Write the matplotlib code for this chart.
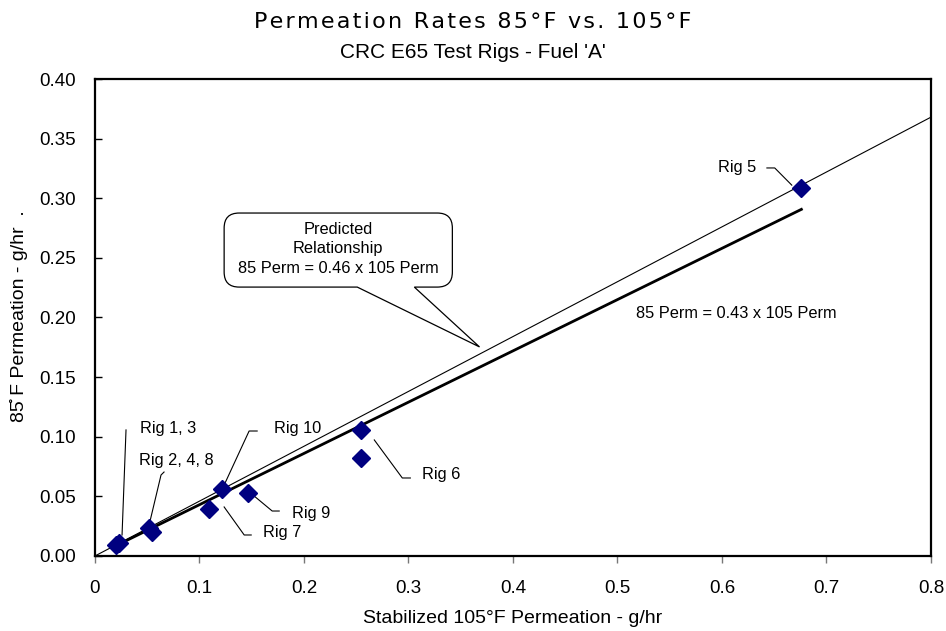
import matplotlib
matplotlib.use("Agg")
import matplotlib.pyplot as plt
from matplotlib.path import Path
from matplotlib.patches import PathPatch
from matplotlib.transforms import IdentityTransform

plt.rcParams['font.family'] = ['Liberation Sans', 'DejaVu Sans']

# ---- data ----
x105 = [0.020, 0.023, 0.0517, 0.0546, 0.1092, 0.1217, 0.1466, 0.255, 0.255, 0.676]
y85 = [0.009, 0.011, 0.0235, 0.0201, 0.0394, 0.0562, 0.0528, 0.1057, 0.082, 0.309]

pred_slope = 0.46
pred_x = [0.0, 0.8]
fit_slope = 0.43
fit_x = [0.021, 0.676]

xticks = [0, 0.1, 0.2, 0.3, 0.4, 0.5, 0.6, 0.7, 0.8]
xtick_labels = ['0', '0.1', '0.2', '0.3', '0.4', '0.5', '0.6', '0.7', '0.8']
yticks = [0.00, 0.05, 0.10, 0.15, 0.20, 0.25, 0.30, 0.35, 0.40]

# rig labels: text, text anchor (x, y), leader path
rig_labels = [
    ("Rig 5", (0.596, 0.326), [(0.643, 0.3254), (0.6505, 0.3254), (0.6668, 0.311)]),
    ("Rig 6", (0.313, 0.068), [(0.2673, 0.0973), (0.2941, 0.0654), (0.3018, 0.0654)]),
    ("Rig 9", (0.189, 0.036), [(0.1523, 0.0503), (0.1696, 0.0377), (0.1763, 0.0377)]),
    ("Rig 7", (0.161, 0.0193), [(0.1236, 0.0411), (0.1428, 0.0176), (0.1495, 0.0176)]),
    ("Rig 10", (0.1715, 0.1065), [(0.1552, 0.1048), (0.1475, 0.1048), (0.1236, 0.0595)]),
    ("Rig 1, 3", (0.043, 0.107), [(0.0297, 0.1057), (0.0259, 0.0176)]),
    ("Rig 2, 4, 8", (0.042, 0.0797), [(0.0661, 0.0704), (0.0632, 0.0679), (0.0527, 0.0293)]),
]

title = "Permeation Rates 85\u00b0F vs. 105\u00b0F"
subtitle = "CRC E65 Test Rigs - Fuel 'A'"

fig = plt.figure(figsize=(9.46, 6.31), dpi=100)
ax = fig.add_axes([0.1004, 0.1189, 0.8837, 0.7559])
ax.set_xlim(0, 0.8)
ax.set_ylim(0, 0.40)

# lines
ax.plot(pred_x, [pred_slope * v for v in pred_x], color='black', lw=0.8, zorder=2)
ax.plot(fit_x, [fit_slope * v for v in fit_x], color='black', lw=2.0, zorder=2)

# points
ax.plot(x105, y85, linestyle='none', marker='D', ms=9.5, color='#000080',
        markeredgecolor='#000080', zorder=3)

# labels and leaders
for txt, (tx, ty), leader in rig_labels:
    ax.text(tx, ty, txt, fontsize=11.8, ha='left', va='center', zorder=4)
    ax.plot([p[0] for p in leader], [p[1] for p in leader], color='black', lw=0.8, zorder=2)

ax.text(0.614, 0.203, "85 Perm = 0.43 x 105 Perm", fontsize=11.8, ha='center', va='center')

# callout (rounded rectangular callout)
box = (0.1236, 0.2255, 0.342, 0.2876)   # x0, y0, x1, y1 in data
tail_base = (0.251, 0.3056)
tail_tip = (0.368, 0.1753)
T = ax.transData
(X0, Y0) = T.transform((box[0], box[1]))
(X1, Y1) = T.transform((box[2], box[3]))
BX0 = T.transform((tail_base[0], box[1]))[0]
BX1 = T.transform((tail_base[1], box[1]))[0]
TX, TY = T.transform(tail_tip)
r = 15
verts = [(BX0, Y0), (TX, TY), (BX1, Y0), (X1 - r, Y0), (X1, Y0), (X1, Y0 + r),
         (X1, Y1 - r), (X1, Y1), (X1 - r, Y1), (X0 + r, Y1), (X0, Y1), (X0, Y1 - r),
         (X0, Y0 + r), (X0, Y0), (X0 + r, Y0), (BX0, Y0), (BX0, Y0)]
codes = [Path.MOVETO, Path.LINETO, Path.LINETO, Path.LINETO, Path.CURVE3, Path.CURVE3,
         Path.LINETO, Path.CURVE3, Path.CURVE3, Path.LINETO, Path.CURVE3, Path.CURVE3,
         Path.LINETO, Path.CURVE3, Path.CURVE3, Path.LINETO, Path.CLOSEPOLY]
patch = PathPatch(Path(verts, codes), facecolor='white', edgecolor='black', lw=0.9,
                  transform=IdentityTransform(), zorder=5)
ax.add_patch(patch)
ax.text((box[0] + box[2]) / 2, 0.2575, "Predicted\nRelationship\n85 Perm = 0.46 x 105 Perm",
        fontsize=11.8, ha='center', va='center', linespacing=1.35, zorder=6)

# axes styling
for s in ax.spines.values():
    s.set_linewidth(1.6)
    s.set_color('black')
ax.set_xticks(xticks)
ax.set_xticklabels(xtick_labels)
ax.set_yticks(yticks)
ax.set_yticklabels([f"{v:.2f}" for v in yticks])
ax.tick_params(axis='y', direction='in', length=5, width=1, pad=14, labelsize=13.5)
ax.tick_params(axis='x', direction='out', length=5, width=1, pad=12, labelsize=13.5,
               color='#777777')

ax.set_xlabel("Stabilized 105\u00b0F Permeation - g/hr", fontsize=14)
ax.xaxis.set_label_coords(0.5, -0.113)
ax.set_ylabel("85\u030a F Permeation - g/hr  .", fontsize=14)
ax.yaxis.set_label_coords(-0.080, 0.503)

hair = "\u200a"
fig.text(0.5, 0.965, hair.join(title), fontsize=16,
         ha='center', va='center', family=['DejaVu Sans'])
fig.text(0.5, 0.917, subtitle, fontsize=15, ha='center', va='center')

fig.savefig("out.png", dpi=100)
